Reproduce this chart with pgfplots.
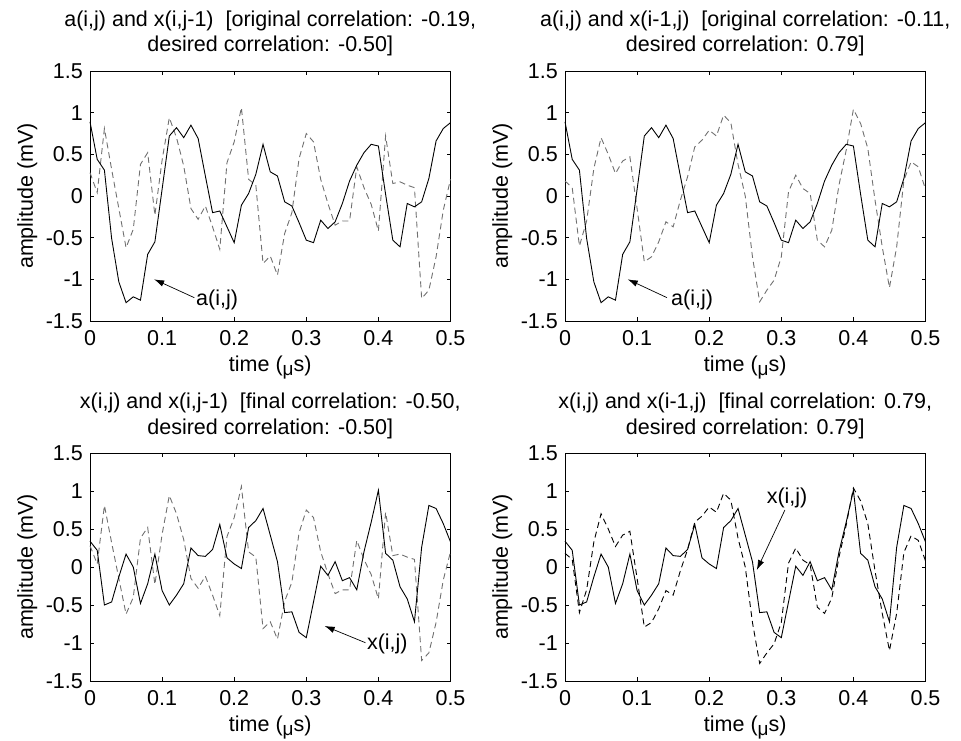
\documentclass[border=0pt]{standalone}
\usepackage{fontspec}
\setmainfont{Liberation Sans}
\usepackage{pgfplots}
\usepackage{pgfplotstable}
\pgfplotsset{compat=1.18}
\usetikzlibrary{arrows.meta}
\definecolor{dgray}{RGB}{112,112,112}

\pgfplotstableread{
t a xij xjm xim
0.00 0.89 0.34 0.28 0.18
0.01 0.44 0.22 0.04 0.10
0.02 0.31 -0.50 0.81 -0.60
0.03 -0.51 -0.46 0.32 -0.30
0.04 -1.03 -0.13 -0.15 0.33
0.05 -1.28 0.17 -0.62 0.70
0.06 -1.21 0.00 -0.40 0.50
0.07 -1.25 -0.48 0.38 0.27
0.08 -0.70 -0.22 0.52 0.42
0.09 -0.55 0.17 -0.23 0.47
0.10 0.08 -0.31 0.43 -0.15
0.11 0.72 -0.50 0.94 -0.79
0.12 0.82 -0.37 0.70 -0.73
0.13 0.70 -0.22 0.36 -0.55
0.14 0.85 0.25 -0.15 -0.31
0.15 0.69 0.15 -0.28 -0.37
0.16 0.24 0.14 -0.12 -0.05
0.17 -0.20 0.23 -0.37 0.23
0.18 -0.18 0.56 -0.64 0.59
0.19 -0.37 0.12 0.40 0.67
0.20 -0.56 0.04 0.65 0.79
0.21 -0.11 -0.02 1.06 0.72
0.22 0.03 0.52 0.20 0.97
0.23 0.26 0.61 0.13 0.88
0.24 0.62 0.77 -0.81 0.38
0.25 0.29 0.42 -0.72 0.00
0.26 0.24 0.07 -0.95 -0.73
0.27 -0.07 -0.60 -0.45 -1.27
0.28 -0.12 -0.59 -0.20 -1.13
0.29 -0.32 -0.86 0.45 -1.01
0.30 -0.53 -0.93 0.75 -0.73
0.31 -0.56 -0.46 0.65 0.05
0.32 -0.29 0.01 0.20 0.25
0.33 -0.39 -0.11 -0.09 0.09
0.34 -0.31 0.07 -0.35 0.03
0.35 -0.09 -0.18 -0.30 -0.53
0.36 0.18 -0.14 -0.30 -0.61
0.37 0.37 -0.30 0.35 -0.41
0.38 0.52 0.20 0.10 0.13
0.39 0.62 0.59 -0.10 0.55
0.40 0.60 1.01 -0.42 1.04
0.41 0.02 0.18 0.72 0.87
0.42 -0.53 0.09 0.15 0.57
0.43 -0.61 -0.26 0.17 -0.05
0.44 -0.09 -0.42 0.13 -0.61
0.45 -0.13 -0.72 0.10 -1.10
0.46 -0.07 0.26 -1.23 -0.61
0.47 0.21 0.81 -1.13 0.19
0.48 0.66 0.77 -0.73 0.41
0.49 0.81 0.57 -0.17 0.35
0.50 0.88 0.33 0.20 0.08
}\data

\pgfplotsset{
  myax/.style={
    scale only axis, width=360.5pt,
    xmin=0, xmax=0.5, ymin=-1.5, ymax=1.5,
    xtick={0,0.1,0.2,0.3,0.4,0.5},
    xticklabels={0,0.1,0.2,0.3,0.4,0.5},
    ytick={-1.5,-1,-0.5,0,0.5,1,1.5},
    yticklabels={-1.5,-1,-0.5,0,0.5,1,1.5},
    tick align=inside, major tick length=3.6pt,
    axis line style={line width=0.8pt},
    every tick/.style={black, line width=0.8pt},
    yticklabel style={inner sep=0pt, anchor=east, xshift=-7pt},
    xticklabel style={inner sep=0pt, anchor=north, yshift=-9pt},
    xlabel={time (\raisebox{-0.18em}{\fontsize{19}{20}\selectfont μ}s)}, ylabel={amplitude (mV)},
    xlabel style={at={(axis description cs:0.5,0)}, anchor=base, yshift=-50.7pt, inner sep=0pt},
    ylabel style={at={(axis description cs:-0.174,0.5)}, anchor=center, inner sep=0pt},
    clip=false,
  },
  solid line/.style={black, line width=0.9pt, no markers},
  gdash/.style={dgray, line width=0.9pt, no markers, dash pattern=on 6pt off 4pt},
  kdash/.style={black, line width=0.9pt, no markers, dash pattern=on 6pt off 4pt},
}
\tikzset{arr/.style={-{Latex[length=10pt,width=6.5pt]}, line width=0.7pt}}

\begin{document}
\fontsize{21.5}{26}\selectfont
\begin{tikzpicture}[font=\fontsize{21.5}{26}\selectfont]

% top left
\begin{axis}[myax, height=250pt, at={(90pt,419pt)}, anchor=south west]
\addplot[gdash] table[x=t,y=xjm] {\data};
\addplot[solid line] table[x=t,y=a] {\data};
\node[anchor=base, inner sep=0pt, yshift=44.7pt] at (rel axis cs:0.5,1) {a(i,j) and x(i,j-1)\ \ [original correlation: -0.19,};
\node[anchor=base, inner sep=0pt, yshift=19pt] at (rel axis cs:0.5,1) {desired correlation: -0.50]};
\draw[arr] (axis cs:0.1447,-1.22) -- (axis cs:0.089,-1.0);
\node[anchor=base west, inner sep=0pt] at (axis cs:0.147,-1.31) {a(i,j)};
\end{axis}

% top right
\begin{axis}[myax, height=250pt, at={(565pt,419pt)}, anchor=south west]
\addplot[gdash] table[x=t,y=xim] {\data};
\addplot[solid line] table[x=t,y=a] {\data};
\node[anchor=base, inner sep=0pt, yshift=44.7pt] at (rel axis cs:0.5,1) {a(i,j) and x(i-1,j)\ \ [original correlation: -0.11,};
\node[anchor=base, inner sep=0pt, yshift=19pt] at (rel axis cs:0.5,1) {desired correlation: 0.79]};
\draw[arr] (axis cs:0.1415,-1.22) -- (axis cs:0.087,-1.0);
\node[anchor=base west, inner sep=0pt] at (axis cs:0.147,-1.31) {a(i,j)};
\end{axis}

% bottom left
\begin{axis}[myax, height=228pt, at={(90pt,59pt)}, anchor=south west]
\addplot[gdash] table[x=t,y=xjm] {\data};
\addplot[solid line] table[x=t,y=xij] {\data};
\node[anchor=base, inner sep=0pt, yshift=45pt] at (rel axis cs:0.5,1) {x(i,j) and x(i,j-1)\ \ [final correlation: -0.50,};
\node[anchor=base, inner sep=0pt, yshift=19pt] at (rel axis cs:0.5,1) {desired correlation: -0.50]};
\draw[arr] (axis cs:0.382,-0.996) -- (axis cs:0.3255,-0.776);
\node[anchor=base west, inner sep=0pt] at (axis cs:0.384,-1.09) {x(i,j)};
\end{axis}

% bottom right
\begin{axis}[myax, height=228pt, at={(565pt,59pt)}, anchor=south west]
\addplot[kdash] table[x=t,y=xim] {\data};
\addplot[solid line] table[x=t,y=xij] {\data};
\node[anchor=base, inner sep=0pt, yshift=45pt] at (rel axis cs:0.5,1) {x(i,j) and x(i-1,j)\ \ [final correlation: 0.79,};
\node[anchor=base, inner sep=0pt, yshift=19pt] at (rel axis cs:0.5,1) {desired correlation: 0.79]};
\draw[arr] (axis cs:0.305,0.75) -- (axis cs:0.266,-0.04);
\node[anchor=base, inner sep=0pt] at (axis cs:0.308,0.838) {x(i,j)};
\end{axis}

\pgfresetboundingbox
\useasboundingbox (0pt,0pt) rectangle (961pt,740pt);
\end{tikzpicture}
\end{document}
